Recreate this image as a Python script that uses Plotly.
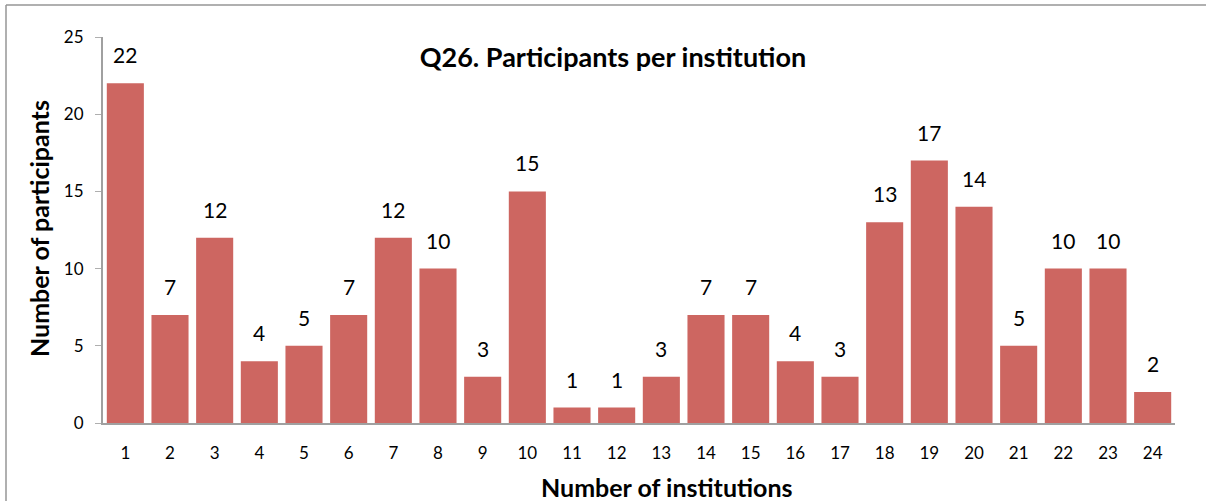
import plotly.graph_objects as go

categories = [str(i) for i in range(1, 25)]
participants = [22, 7, 12, 4, 5, 7, 12, 10, 3, 15, 1, 1, 3, 7, 7, 4, 3, 13, 17, 14, 5, 10, 10, 2]
y_ticks = [0, 5, 10, 15, 20, 25]

W, H = 1206, 501
L, R, T, B = 103, 31, 37, 78
pw, ph = W - L - R, H - T - B

def px_x(x):
    return (x - L) / pw

def px_y(y):
    return (H - B - y) / ph

FONT = "Lato"
fig = go.Figure()
fig.add_trace(go.Bar(
    x=categories, y=participants,
    marker=dict(color="rgb(205,102,97)", line=dict(width=0)),
    hoverinfo="skip",
))

for i, v in enumerate(participants):
    fig.add_annotation(x=i, y=v, text=str(v), showarrow=False,
                       xref="x", yref="y",
                       yanchor="bottom", yshift=14,
                       font=dict(family=FONT, size=21, color="black"))

# axis titles
fig.add_annotation(xref="paper", yref="paper", x=px_x(667), y=px_y(487),
                   text="<b>Number of institutions</b>", showarrow=False,
                   xanchor="center", yanchor="middle",
                   font=dict(family=FONT, size=25, color="black"))
fig.add_annotation(xref="paper", yref="paper", x=px_x(39), y=px_y(229),
                   text="<b>Number of participants</b>", showarrow=False,
                   textangle=-90, xanchor="center", yanchor="middle",
                   font=dict(family=FONT, size=25, color="black"))

# frame lines (left and top)
grey = "rgb(150,150,150)"
fig.add_shape(type="line", xref="paper", yref="paper",
              x0=px_x(6), x1=px_x(6), y0=px_y(5), y1=px_y(505),
              line=dict(color=grey, width=1.5))
fig.add_shape(type="line", xref="paper", yref="paper",
              x0=px_x(6), x1=px_x(1210), y0=px_y(5), y1=px_y(5),
              line=dict(color=grey, width=1.5))

fig.update_layout(
    width=W, height=H,
    margin=dict(l=L, r=R, t=T, b=B, autoexpand=False),
    paper_bgcolor="white", plot_bgcolor="white",
    bargap=0.17,
    showlegend=False,
    font=dict(family=FONT, color="black"),
    title=dict(text="<b>Q26. Participants per institution</b>",
               xref="container", x=613 / W, xanchor="center",
               yref="container", y=1 - 58 / H, yanchor="middle",
               font=dict(family=FONT, size=27, color="black")),
    xaxis=dict(type="category", showline=True, linecolor="rgb(160,160,160)", linewidth=2,
               ticks="", showgrid=False, ticklabelstandoff=14, automargin=False,
               tickfont=dict(family=FONT, size=17, color="black")),
    yaxis=dict(range=[0, 25], tickvals=y_ticks, showline=True,
               linecolor="rgb(160,160,160)", linewidth=2, automargin=False,
               ticks="outside", ticklen=6, tickcolor="rgb(175,175,175)", tickwidth=1,
               showgrid=False, zeroline=False, ticklabelstandoff=8,
               tickfont=dict(family=FONT, size=17, color="black")),
)

fig.write_html("out.html", config={"displayModeBar": False},
               post_script="document.body.style.margin='0';")
